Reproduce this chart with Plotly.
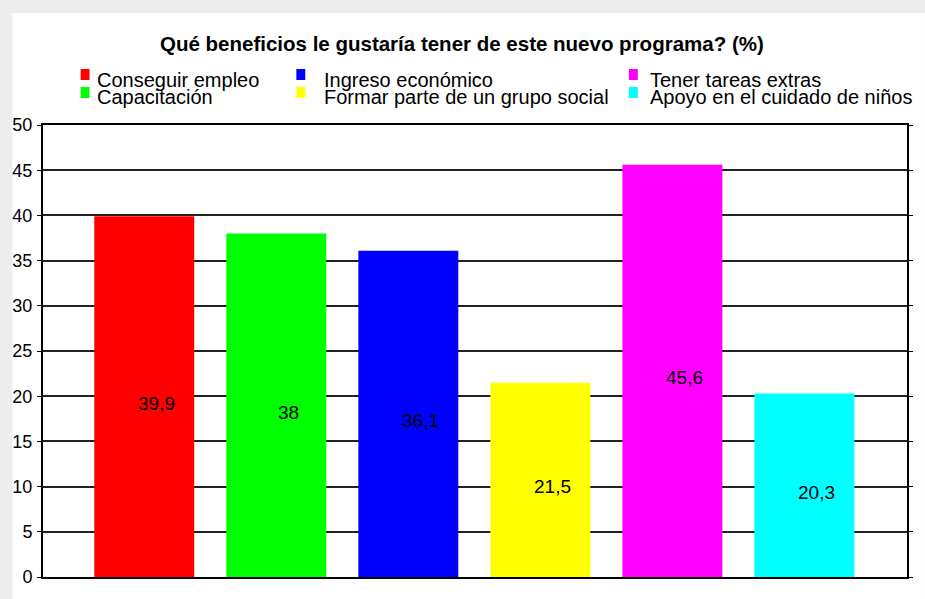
import plotly.graph_objects as go

# Data
categories = ["Conseguir empleo", "Capacitación", "Ingreso económico",
              "Formar parte de un grupo social", "Tener tareas extras",
              "Apoyo en el cuidado de niños"]
values = [39.9, 38, 36.1, 21.5, 45.6, 20.3]
colors = ["#FF0000", "#00FF00", "#0000FF", "#FFFF00", "#FF00FF", "#00FFFF"]
y_ticks = [0, 5, 10, 15, 20, 25, 30, 35, 40, 45, 50]

FONT = "Liberation Sans, Arial, sans-serif"

# pixel -> paper helpers (plot area: x 39..912, y 125..577)
L, R, T, B = 39, 912, 125, 577
def px(x):
    return (x - L) / (R - L)
def py(y):
    return (B - y) / (B - T)

fig = go.Figure()
for cat, val, col in zip(categories, values, colors):
    fig.add_trace(go.Bar(
        x=[cat], y=[val], width=0.757,
        marker=dict(color=col, line=dict(width=0)),
        name=cat, showlegend=False,
    ))

# Value labels, roughly mid-bar
for cat, val in zip(categories, values):
    fig.add_annotation(
        x=cat, y=val / 2, text=f"{val:g}".replace(".", ","),
        showarrow=False, xshift=12, yshift=-7,
        font=dict(size=19, color="#000000", family=FONT),
    )

# Legend built by hand (3 columns x 2 rows)
legend_cols = [(77, 94), (295, 323), (631, 652)]
legend_rows = [74.5, 92.5]
order = [[0, 1], [2, 3], [4, 5]]
for (mx, tx), idxs in zip(legend_cols, order):
    for row_y, i in zip(legend_rows, idxs):
        fig.add_shape(type="rect", xref="paper", yref="paper",
                      x0=px(mx), x1=px(mx + 9), y0=py(row_y + 5.5), y1=py(row_y - 5.5),
                      fillcolor=colors[i], line=dict(width=0))
        fig.add_annotation(xref="paper", yref="paper", x=px(tx - 2), y=py(row_y + 5),
                           xanchor="left", yanchor="middle", showarrow=False,
                           text=categories[i],
                           font=dict(size=20, color="#000000", family=FONT))

# Title
fig.add_annotation(xref="paper", yref="paper", x=px(462), y=py(43),
                   xanchor="center", yanchor="middle", showarrow=False,
                   text="<b>Qué beneficios le gustaría tener de este nuevo programa? (%)</b>",
                   font=dict(size=20.5, color="#000000", family=FONT))

# White panel over light grey page
fig.add_shape(type="rect", xref="paper", yref="paper", layer="below",
              x0=px(8), x1=px(930), y0=py(605), y1=py(13),
              fillcolor="#FFFFFF", line=dict(width=0))

fig.update_layout(
    width=925, height=599,
    paper_bgcolor="#EDEDED",
    plot_bgcolor="#FFFFFF",
    margin=dict(l=L, r=925 - R, t=T, b=599 - B),
    font=dict(family=FONT, color="#000000"),
    barmode="overlay",
    showlegend=False,
    xaxis=dict(
        type="category",
        range=[-0.767, 5.777],
        showticklabels=False,
        showgrid=False,
        showline=True, mirror=True,
        linecolor="#000000", linewidth=2,
        ticks="",
    ),
    yaxis=dict(
        range=[0, 50],
        tickvals=y_ticks,
        showgrid=True, gridcolor="#222222", gridwidth=2,
        zeroline=False,
        showline=True, mirror="ticks",
        linecolor="#000000", linewidth=2,
        ticks="outside", ticklen=4, tickcolor="#000000", tickwidth=1,
        tickfont=dict(size=18, color="#000000", family=FONT),
        ticklabelstandoff=1,
    ),
)

fig.write_html("out.html", config={"displayModeBar": False},
               post_script="document.body.style.margin='0';document.body.style.overflow='hidden';")
